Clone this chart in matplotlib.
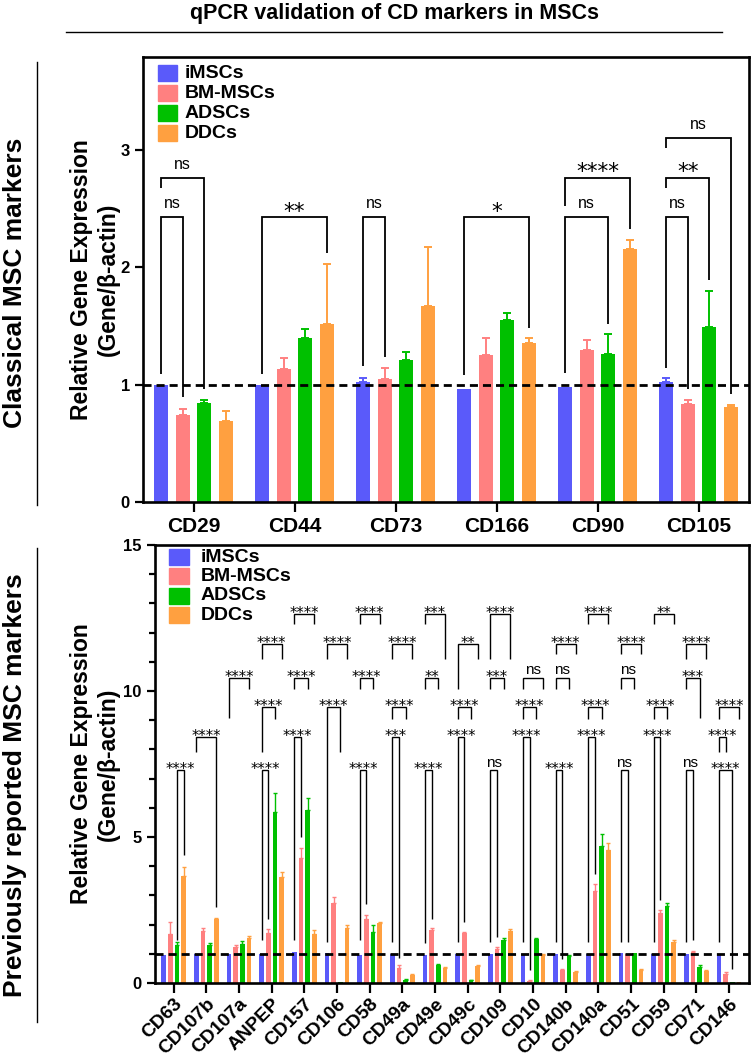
import matplotlib
matplotlib.use('Agg')
import matplotlib.pyplot as plt
import numpy as np
from matplotlib.patches import Rectangle
from matplotlib.lines import Line2D

plt.rcParams['font.family'] = ['Liberation Sans', 'DejaVu Sans']
plt.rcParams['font.weight'] = 'bold'

# ---------------- data ----------------
series = ['iMSCs', 'BM-MSCs', 'ADSCs', 'DDCs']
colors = ['#5A5AFA', '#FF8080', '#00C000', '#FFA040']

top_groups = ['CD29', 'CD44', 'CD73', 'CD166', 'CD90', 'CD105']
top_imsc = [1.00, 1.00, 1.02, 0.963, 0.983, 1.02]
top_imsc_up = [1.00, 1.00, 1.06, 0.963, 0.983, 1.054]
top_bm = [0.737, 1.133, 1.048, 1.254, 1.294, 0.836]
top_bm_up = [0.788, 1.229, 1.14, 1.393, 1.381, 0.867]
top_ad = [0.845, 1.393, 1.212, 1.548, 1.26, 1.49]
top_ad_up = [0.867, 1.477, 1.274, 1.607, 1.432, 1.80]
top_dd = [0.686, 1.52, 1.67, 1.353, 2.155, 0.808]
top_dd_up = [0.774, 2.03, 2.17, 1.395, 2.232, 0.828]

# brackets: group, bar a, bar b, top y, left leg end, right leg end, label
top_br_group = [0, 0, 1, 2, 3, 4, 4, 5, 5, 5]
top_br_a = [0, 0, 0, 0, 0, 0, 0, 0, 0, 0]
top_br_b = [1, 2, 3, 1, 3, 2, 3, 1, 2, 3]
top_br_top = [2.424, 2.763, 2.427, 2.424, 2.424, 2.424, 2.763, 2.424, 2.763, 3.10]
top_br_lend = [1.09, 2.672, 1.09, 1.155, 1.085, 1.096, 2.517, 1.141, 2.672, 3.011]
top_br_rend = [0.893, 0.963, 2.121, 1.237, 1.486, 1.52, 2.325, 0.963, 1.895, 0.921]
top_br_label = ['ns', 'ns', '**', 'ns', '*', 'ns', '****', 'ns', '**', 'ns']

bot_groups = ['CD63', 'CD107b', 'CD107a', 'ANPEP', 'CD157', 'CD106', 'CD58', 'CD49a',
              'CD49e', 'CD49c', 'CD109', 'CD10', 'CD140b', 'CD140a', 'CD51', 'CD59',
              'CD71', 'CD146']
bot_imsc = [0.97, 1.0, 1.0, 1.0, 1.05, 1.02, 0.95, 1.0, 0.97, 1.0, 0.98, 0.98, 1.0, 1.0,
            1.02, 0.98, 1.0, 0.98]
bot_bm = [1.69, 1.77, 1.23, 1.71, 4.27, 2.73, 2.2, 0.53, 1.83, 1.71, 1.18, 0.07, 0.43,
          3.15, 1.0, 2.4, 1.06, 0.32]
bot_bm_up = [2.09, 1.89, 1.29, 1.86, 4.64, 2.96, 2.34, 0.62, 1.87, 1.75, 1.23, 0.11, 0.48,
             3.4, 1.0, 2.51, 1.11, 0.37]
bot_ad = [1.29, 1.29, 1.33, 5.87, 5.94, 0.02, 1.74, 0.09, 0.6, 0.09, 1.46, 1.52, 0.93,
          4.68, 1.03, 2.63, 0.55, 0.02]
bot_ad_up = [1.42, 1.37, 1.44, 6.51, 6.34, 0.02, 1.98, 0.12, 0.64, 0.11, 1.55, 1.55, 0.97,
             5.09, 1.03, 2.75, 0.6, 0.02]
bot_dd = [3.66, 2.2, 1.55, 3.64, 1.69, 1.89, 2.04, 0.29, 0.5, 0.57, 1.77, 0.95, 0.38,
          4.57, 0.43, 1.4, 0.42, 0.02]
bot_dd_up = [3.98, 2.24, 1.6, 3.79, 1.82, 1.98, 2.1, 0.32, 0.54, 0.6, 1.86, 0.98, 0.41,
             4.8, 0.47, 1.46, 0.45, 0.02]

bot_levels = [7.28, 8.42, 9.45, 10.46, 11.62, 12.65]
bot_br = [
    (0, 2, 3, 0, 1.46, 4.37, '****'),
    (1, 0, 3, 1, 7.91, 2.6, '****'),
    (2, 0, 3, 3, 9.09, 10.08, '****'),
    (3, 0, 1, 0, 1.46, 2.2, '****'),
    (3, 0, 2, 2, 7.91, 9.05, '****'),
    (3, 0, 3, 4, 11.11, 11.11, '****'),
    (4, 0, 1, 1, 1.46, 5.0, '****'),
    (4, 0, 2, 3, 10.08, 10.08, '****'),
    (4, 0, 3, 5, 12.31, 12.31, '****'),
    (5, 0, 2, 2, 1.40, 7.91, '****'),
    (5, 0, 3, 4, 11.11, 11.11, '****'),
    (6, 0, 1, 0, 1.46, 2.72, '****'),
    (6, 0, 2, 3, 10.08, 10.08, '****'),
    (6, 0, 3, 5, 12.31, 12.31, '****'),
    (7, 0, 1, 1, 1.40, 0.85, '***'),
    (7, 0, 2, 2, 9.05, 9.05, '****'),
    (7, 0, 3, 4, 11.11, 11.11, '****'),
    (8, 0, 1, 0, 1.37, 2.2, '****'),
    (8, 0, 2, 3, 10.08, 10.08, '**'),
    (8, 0, 3, 5, 12.31, 11.11, '***'),
    (9, 0, 1, 1, 1.40, 2.09, '****'),
    (9, 0, 2, 2, 9.05, 9.05, '****'),
    (9, 0, 3, 4, 10.08, 11.11, '**'),
    (10, 0, 1, 0, 1.40, 1.58, 'ns'),
    (10, 0, 2, 3, 10.08, 10.08, '***'),
    (10, 0, 3, 5, 11.11, 11.11, '****'),
    (11, 0, 1, 1, 1.40, 0.45, '****'),
    (11, 0, 2, 2, 9.05, 9.05, '****'),
    (11, 0, 3, 3, 10.08, 10.08, 'ns'),
    (12, 0, 1, 0, 1.40, 0.83, '****'),
    (12, 0, 2, 3, 10.08, 10.08, 'ns'),
    (12, 0, 3, 4, 11.28, 11.28, '****'),
    (13, 0, 1, 1, 1.40, 3.75, '****'),
    (13, 0, 2, 2, 9.05, 9.05, '****'),
    (13, 0, 3, 5, 12.31, 12.31, '****'),
    (14, 0, 1, 0, 1.40, 1.40, 'ns'),
    (14, 0, 2, 3, 10.08, 10.08, 'ns'),
    (14, 0, 3, 4, 11.28, 11.28, '****'),
    (15, 0, 1, 1, 1.40, 2.83, '****'),
    (15, 0, 2, 2, 9.05, 9.05, '****'),
    (15, 0, 3, 5, 12.31, 12.31, '**'),
    (16, 0, 1, 0, 1.40, 1.46, 'ns'),
    (16, 0, 2, 3, 10.08, 9.09, '***'),
    (16, 0, 3, 4, 11.11, 11.11, '****'),
    (17, 0, 1, 1, 7.91, 7.91, '****'),
    (17, 0, 2, 0, 1.40, 0.47, '****'),
    (17, 0, 3, 2, 9.05, 9.05, '****'),
]

# ---------------- figure ----------------
W, H = 752, 1062
fig = plt.figure(figsize=(W / 100, H / 100), dpi=100)


def rect(l, t, r, b):
    return [l / W, 1 - b / H, (r - l) / W, (b - t) / H]


ax1 = fig.add_axes(rect(143, 57, 749, 502))
ax2 = fig.add_axes(rect(155, 545, 749, 983))


def style_axes(ax):
    for s in ax.spines.values():
        s.set_linewidth(1.9)
        s.set_color('black')
    ax.tick_params(axis='both', which='major', width=1.6, length=6, labelsize=12, color='black')
    ax.tick_params(axis='x', which='major', length=7)


def draw_bars(ax, n, vals, ups, spacing, width, errlw, cap):
    x0 = np.arange(n)
    for i in range(4):
        x = x0 + (i - 1.5) * spacing
        v = np.array(vals[i])
        u = np.array(ups[i])
        ax.bar(x, v, width, color=colors[i], edgecolor='none', zorder=2)
        m = (u - v) > 0.005
        ax.errorbar(x[m], v[m], yerr=[np.zeros(m.sum()), (u - v)[m]], fmt='none',
                    ecolor=colors[i], elinewidth=errlw, capsize=cap, capthick=errlw, zorder=2)


def legend(ax, dx, dy0, step, pw, ph, tx, fs):
    bb = ax.get_position()
    aw, ah = bb.width * W, bb.height * H
    for i, s in enumerate(series):
        dy = dy0 + i * step
        ax.add_patch(Rectangle((dx / aw, 1 - (dy + ph / 2) / ah), pw / aw, ph / ah,
                               transform=ax.transAxes, color=colors[i], clip_on=False, zorder=5))
        ax.text(tx / aw, 1 - dy / ah, s, transform=ax.transAxes, ha='left', va='center',
                fontsize=fs, fontweight='bold', zorder=5)


def bracket(ax, xa, xb, top, le, re, label, lw, afs, nfs, aoff, noff):
    ax.plot([xa, xa, xb, xb], [le, top, top, re], color='black', lw=lw,
            solid_joinstyle='miter', solid_capstyle='butt', zorder=4)
    if label == 'ns':
        ax.annotate(label, ((xa + xb) / 2, top), xytext=(0, noff), textcoords='offset points',
                    ha='center', va='baseline', fontsize=nfs, fontweight='normal',
                    family='Liberation Sans')
    else:
        ax.annotate(label, ((xa + xb) / 2, top), xytext=(0, aoff), textcoords='offset points',
                    ha='center', va='baseline', fontsize=afs, fontweight='normal',
                    family='DejaVu Sans')


# ---------- top panel ----------
style_axes(ax1)
sp1, bw1 = 0.213, 0.142
draw_bars(ax1, len(top_groups), [top_imsc, top_bm, top_ad, top_dd],
          [top_imsc_up, top_bm_up, top_ad_up, top_dd_up], sp1, bw1, 1.4, 2.6)
ax1.axhline(1, color='black', lw=2.0, ls=(0, (2.9, 1.8)), zorder=3)
ax1.set_xlim(-0.5, 5.5)
ax1.set_ylim(0, 3.79)
ax1.set_yticks([0, 1, 2, 3])
ax1.set_yticklabels(['0', '1', '2', '3'], fontweight='bold')
ax1.set_xticks(np.arange(len(top_groups)))
ax1.set_xticklabels(top_groups, fontsize=15, fontweight='bold')
for g, a, b, t, le, re, lab in zip(top_br_group, top_br_a, top_br_b, top_br_top,
                                   top_br_lend, top_br_rend, top_br_label):
    bracket(ax1, g + (a - 1.5) * sp1, g + (b - 1.5) * sp1, t, le, re, lab,
            1.3, 15.5, 11.5, -0.6, 6.5)
legend(ax1, 15, 16, 20, 19, 16, 42, 14)

# ---------- bottom panel ----------
style_axes(ax2)
sp2, bw2 = 0.205, 0.14
draw_bars(ax2, len(bot_groups), [bot_imsc, bot_bm, bot_ad, bot_dd],
          [bot_imsc, bot_bm_up, bot_ad_up, bot_dd_up], sp2, bw2, 1.0, 1.3)
ax2.axhline(1, color='black', lw=2.0, ls=(0, (2.9, 1.8)), zorder=3)
ax2.set_xlim(-0.57, 17.61)
ax2.set_ylim(0, 15)
ax2.set_yticks([0, 5, 10, 15])
ax2.set_yticklabels(['0', '5', '10', '15'], fontweight='bold')
ax2.set_yticks(np.arange(0, 16, 1), minor=True)
ax2.tick_params(axis='y', which='minor', length=4, width=1.6)
ax2.set_xticks(np.arange(len(bot_groups)))
ax2.set_xticklabels(bot_groups, fontsize=13.8, fontweight='bold', rotation=45,
                    ha='right', va='top', rotation_mode='anchor')
ax2.tick_params(axis='x', which='major', pad=2)
for g, a, b, lv, le, re, lab in bot_br:
    bracket(ax2, g + (a - 1.5) * sp2, g + (b - 1.5) * sp2, bot_levels[lv], le, re, lab,
            1.0, 10.5, 11, -2.9, 2.4)
legend(ax2, 14, 12, 19.4, 20, 16, 46, 14)

# ---------- labels and decorations ----------
fig.text(395 / W, 1 - 14 / H, 'qPCR validation of CD markers in MSCs', ha='center',
         va='center', fontsize=15.5, fontweight='bold')
fig.add_artist(Line2D([66 / W, 722 / W], [1 - 32 / H, 1 - 32 / H], color='black', lw=1.0))

for (yc, txt, y0, y1) in [(283, 'Classical MSC markers', 62, 505),
                          (785, 'Previously reported MSC markers', 548, 1022)]:
    fig.text(15 / W, 1 - yc / H, txt, rotation=90, ha='center', va='center',
             fontsize=19, fontweight='bold')
    fig.add_artist(Line2D([37 / W, 37 / W], [1 - y0 / H, 1 - y1 / H], color='black', lw=1.0))

for yc in [(57 + 502) / 2, (545 + 983) / 2]:
    fig.text(95 / W, 1 - yc / H, 'Relative Gene Expression\n(Gene/β-actin)', rotation=90,
             ha='center', va='center', fontsize=16.5, fontweight='bold', linespacing=1.25,
             multialignment='center')

fig.savefig('out.png', dpi=100)
